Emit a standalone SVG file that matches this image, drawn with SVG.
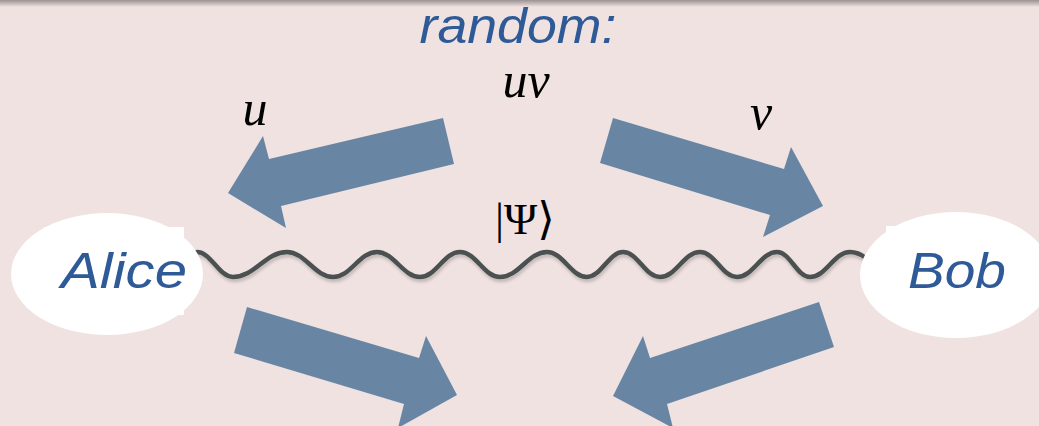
<svg xmlns="http://www.w3.org/2000/svg" width="1039" height="426" viewBox="0 0 1039 426">
<style>
.arrow{fill:#6886a4;}
.blob{fill:#ffffff;}
.name{font-family:"Liberation Sans",Lato,sans-serif;font-style:italic;fill:#2f5a98;font-size:50px;}
.math{font-family:"Liberation Serif","DejaVu Serif",serif;font-style:italic;fill:#000;}
.wave{fill:none;stroke:#4b5151;stroke-width:4.5;stroke-linecap:round;}
</style>
<defs>
<linearGradient id="topband" x1="0" y1="0" x2="0" y2="1">
<stop offset="0" stop-color="#9a9292"/>
<stop offset="1" stop-color="#efe2e1"/>
</linearGradient>
<filter id="sh" x="-5%" y="-50%" width="110%" height="200%">
<feDropShadow dx="1" dy="3" stdDeviation="1.5" flood-color="#000" flood-opacity="0.18"/>
</filter>
</defs>
<rect x="0" y="0" width="1039" height="426" fill="#efe2e1"/>
<rect x="0" y="0" width="1039" height="7" fill="url(#topband)"/>
<g id="title">
<text x="518" y="43" text-anchor="middle" class="name" font-size="46" textLength="197" lengthAdjust="spacingAndGlyphs">random:</text>
</g>
<g id="labels">
<text x="526" y="97" text-anchor="middle" class="math" font-size="50">uv</text>
<text x="255" y="125" text-anchor="middle" class="math" font-size="50">u</text>
<text x="761" y="129" text-anchor="middle" class="math" font-size="50">v</text>
<text x="525" y="234" text-anchor="middle" font-family="'Liberation Serif','DejaVu Serif',serif" font-size="45" fill="#000">|Ψ⟩</text>
</g>
<g id="connectors">
<polygon id="arrow-u" class="arrow" points="443,118 454,164 281,206 286,228 228,193 263,136 269,159"/>
<polygon id="arrow-v" class="arrow" points="613,118 600,163 770,215 763,237 823,206 791,147 784,169"/>
<polygon id="arrow-alice-out" class="arrow" points="247,307 234,353 404,404 398,428 457,395 426,336 419,358"/>
<polygon id="arrow-bob-out" class="arrow" points="819,302 834,347 667,404 673,428 613,396 643,336 650,358"/>
<path id="entanglement" class="wave" filter="url(#sh)" d="M197,252 C211,252 219,277 233,277 C255,277 265,252 287,252 C305,252 315,277 333,277 C351,277 359,252 377,252 C394,252 403,277 420,277 C436,277 444,252 460,252 C476,252 484,277 500,277 C519,277 528,252 547,252 C563,252 571,277 587,277 C601,277 609,252 623,252 C638,252 645,277 660,277 C676,277 684,252 700,252 C715,252 722,277 737,277 C753,277 761,252 777,252 C790,252 797,277 810,277 C826,277 834,252 850,252 C857,252 862,255 866,258"/>
</g>
<g id="alice">
<ellipse class="blob" cx="107" cy="274" rx="96" ry="61"/>
<rect class="blob" x="44" y="227" width="140" height="88"/>
<text x="124" y="288" text-anchor="middle" class="name" font-size="52" textLength="126" lengthAdjust="spacingAndGlyphs">Alice</text>
</g>
<g id="bob">
<ellipse class="blob" cx="956" cy="275" rx="96" ry="63"/>
<rect class="blob" x="886" y="226" width="114" height="88"/>
<text x="957" y="288" text-anchor="middle" class="name" font-size="52" textLength="98" lengthAdjust="spacingAndGlyphs">Bob</text>
</g>
</svg>
